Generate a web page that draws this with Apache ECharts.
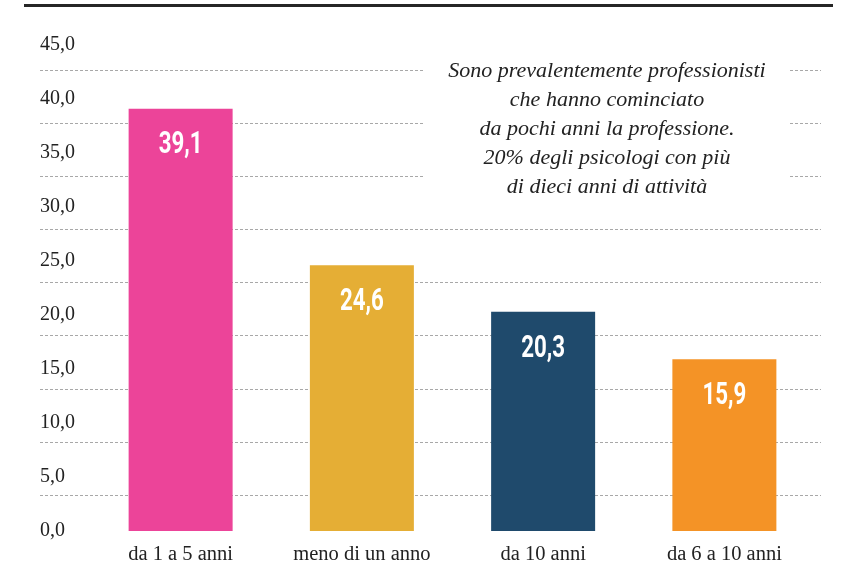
<!DOCTYPE html>
<html>
<head>
<meta charset="utf-8">
<title>psicologi - anni di attività</title>
<script src="https://cdn.jsdelivr.net/npm/echarts@6/dist/echarts.min.js"></script>
<style>
  html, body { margin: 0; padding: 0; background: #fff; }
  #main { width: 842px; height: 580px; }
</style>
</head>
<body>
<div id="main"></div>
<script>
// dati
var categorie = ['da 1 a 5 anni', 'meno di un anno', 'da 10 anni', 'da 6 a 10 anni'];
var valori = [39.1, 24.6, 20.3, 15.9];
var colori = ['#ec4499', '#e5ae35', '#1f4a6c', '#f49326'];
var nota = [
  'Sono prevalentemente professionisti',
  'che hanno cominciato',
  'da pochi anni la professione.',
  '20% degli psicologi con più',
  'di dieci anni di attività'
];

var serif = '"Liberation Serif", "DejaVu Serif", serif';

function virgola(v) {
  return v.toFixed(1).replace('.', ',');
}

var chart = echarts.init(document.getElementById('main'));

chart.setOption({
  animation: false,
  // grid 0: barre e etichette; grid 1: solo le righe tratteggiate (sfalsate come nell'originale)
  grid: [
    { left: 90, right: 27, top: 45, bottom: 49 },
    { left: 40, right: 21, top: 70, bottom: 85 }
  ],
  xAxis: [
    {
      type: 'category',
      gridIndex: 0,
      data: categorie,
      axisLine: { show: false },
      axisTick: { show: false },
      axisLabel: { margin: 13, fontFamily: serif, fontSize: 20.5, color: '#222' }
    },
    { type: 'value', gridIndex: 1, show: false }
  ],
  yAxis: [
    {
      type: 'value',
      gridIndex: 0,
      min: 0, max: 45, interval: 5,
      splitLine: { show: false },
      axisLine: { show: false },
      axisTick: { show: false },
      axisLabel: {
        align: 'left', margin: 50,
        fontFamily: serif, fontSize: 20, color: '#222',
        formatter: virgola
      }
    },
    {
      type: 'value',
      gridIndex: 1,
      min: 0, max: 40, interval: 5,
      axisLine: { show: false },
      axisTick: { show: false },
      axisLabel: { show: false },
      splitLine: { lineStyle: { color: '#a8a8a8', width: 1, type: [3, 2] } }
    }
  ],
  series: [{
    type: 'bar',
    xAxisIndex: 0,
    yAxisIndex: 0,
    barWidth: 104,
    data: valori.map(function (v, i) {
      return { value: v, itemStyle: { color: colori[i] } };
    })
  }],
  graphic: [
    {
      id: 'riga',
      type: 'rect',
      shape: { x: 24, y: 4, width: 809, height: 3 },
      style: { fill: '#262626' }
    },
    {
      id: 'fondo',
      type: 'rect',
      shape: { x: 424, y: 52, width: 366, height: 152 },
      style: { fill: '#fff' },
      z: 10
    },
    {
      id: 'nota',
      type: 'text',
      x: 607, y: 57,
      z: 11,
      style: {
        text: nota.join('\n'),
        fontFamily: serif,
        fontStyle: 'italic',
        fontSize: 22,
        lineHeight: 29,
        fill: '#222',
        align: 'center',
        verticalAlign: 'top'
      }
    }
  ]
});

// etichette dei valori: testo stretto (compresso in orizzontale), posizionato con la scala del grafico
chart.setOption({
  graphic: valori.map(function (v, i) {
    var p = chart.convertToPixel({ xAxisIndex: 0, yAxisIndex: 0 }, [i, v]);
    return {
      id: 'val' + i,
      type: 'text',
      x: p[0],
      y: p[1] + 37,
      scaleX: 0.72,
      z: 20,
      style: {
        text: virgola(v),
        fontFamily: 'Roboto, "Liberation Sans", sans-serif',
        fontWeight: 'bold',
        fontSize: 31,
        fill: '#fff',
        align: 'center',
        verticalAlign: 'middle'
      }
    };
  })
});
</script>
</body>
</html>
